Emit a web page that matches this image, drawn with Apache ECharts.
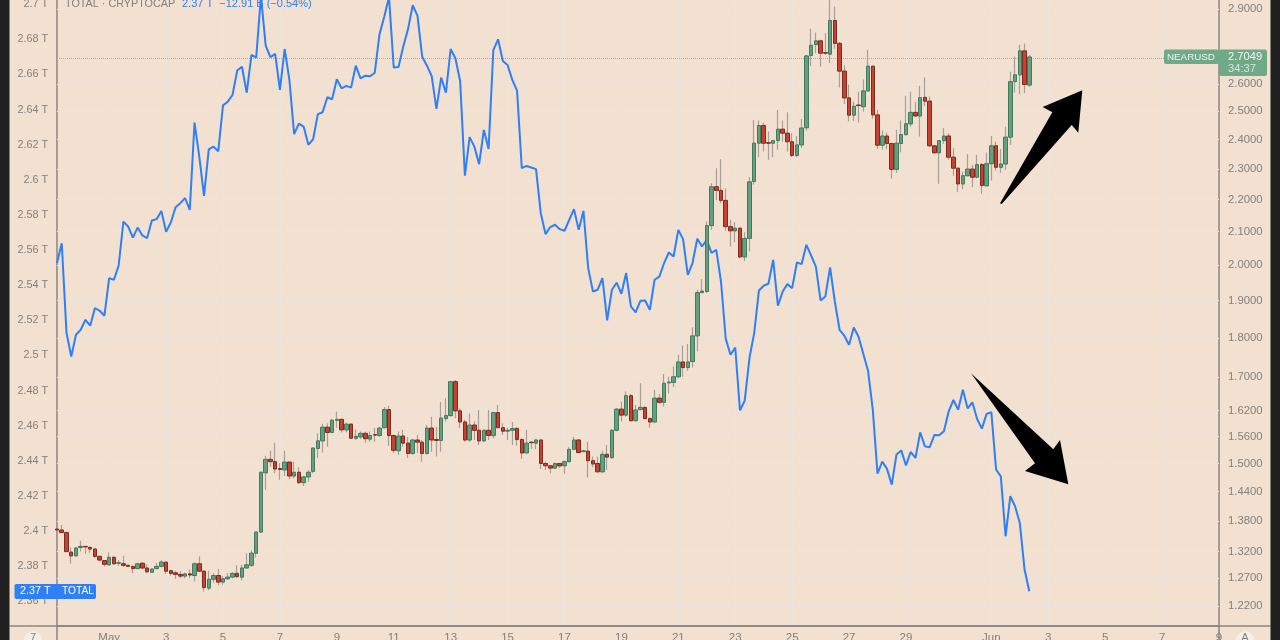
<!DOCTYPE html>
<html><head><meta charset="utf-8">
<style>html,body{margin:0;padding:0;background:#f2e0d0}#c{width:1280px;height:640px}</style>
<script src="https://cdn.jsdelivr.net/npm/echarts@6/dist/echarts.min.js"></script>
</head><body><div id="c"></div>
<script>
const opens = [
1.364,1.362,1.357,1.319,1.312,1.328,1.330,1.328,1.325,1.311,
1.303,1.295,1.309,1.298,1.297,1.294,1.292,1.288,1.298,1.289,
1.281,1.288,1.292,1.300,1.284,1.280,1.277,1.274,1.278,1.275,
1.297,1.283,1.252,1.268,1.275,1.263,1.269,1.272,1.279,1.272,
1.289,1.294,1.317,1.358,1.480,1.509,1.504,1.489,1.486,1.503,
1.473,1.481,1.459,1.471,1.483,1.533,1.550,1.581,1.569,1.597,
1.599,1.575,1.588,1.556,1.559,1.567,1.554,1.564,1.562,1.580,
1.622,1.562,1.528,1.561,1.545,1.522,1.552,1.547,1.522,1.579,
1.553,1.551,1.601,1.608,1.689,1.619,1.593,1.552,1.586,1.574,
1.550,1.574,1.562,1.615,1.580,1.572,1.574,1.578,1.553,1.523,
1.547,1.545,1.552,1.500,1.495,1.490,1.500,1.495,1.504,1.531,
1.552,1.526,1.527,1.506,1.500,1.482,1.520,1.513,1.574,1.623,
1.609,1.655,1.596,1.622,1.627,1.601,1.593,1.649,1.639,1.686,
1.687,1.701,1.738,1.724,1.739,1.805,1.922,1.925,2.118,2.241,
2.229,2.197,2.115,2.102,2.110,2.024,2.079,2.258,2.387,2.449,
2.389,2.387,2.396,2.436,2.422,2.392,2.345,2.381,2.441,2.711,
2.754,2.769,2.722,2.716,2.852,2.759,2.650,2.549,2.486,2.523,
2.517,2.575,2.669,2.487,2.380,2.412,2.386,2.298,2.386,2.417,
2.455,2.496,2.483,2.551,2.537,2.378,2.354,2.396,2.412,2.339,
2.302,2.250,2.277,2.299,2.272,2.314,2.244,2.317,2.378,2.305,
2.316,2.408,2.610,2.636,2.729,2.597];
const closes = [
1.362,1.357,1.320,1.312,1.327,1.330,1.329,1.325,1.311,1.304,
1.296,1.309,1.297,1.299,1.294,1.292,1.288,1.297,1.289,1.282,
1.287,1.292,1.300,1.283,1.279,1.277,1.274,1.278,1.276,1.297,
1.283,1.253,1.268,1.275,1.263,1.269,1.272,1.279,1.273,1.289,
1.295,1.317,1.358,1.481,1.509,1.504,1.488,1.487,1.503,1.473,
1.481,1.459,1.471,1.481,1.534,1.550,1.581,1.569,1.597,1.599,
1.575,1.588,1.556,1.560,1.567,1.555,1.562,1.563,1.579,1.622,
1.562,1.529,1.561,1.545,1.522,1.552,1.547,1.522,1.579,1.552,
1.551,1.602,1.608,1.689,1.619,1.593,1.552,1.586,1.574,1.550,
1.574,1.562,1.615,1.580,1.572,1.574,1.578,1.553,1.523,1.545,
1.546,1.552,1.500,1.495,1.490,1.500,1.495,1.504,1.531,1.552,
1.524,1.528,1.506,1.499,1.482,1.520,1.514,1.574,1.623,1.609,
1.655,1.596,1.621,1.627,1.601,1.593,1.649,1.639,1.685,1.688,
1.701,1.738,1.724,1.738,1.805,1.922,1.926,2.118,2.241,2.229,
2.197,2.115,2.102,2.110,2.024,2.079,2.257,2.387,2.449,2.387,
2.387,2.396,2.436,2.422,2.392,2.345,2.381,2.440,2.709,2.751,
2.769,2.720,2.720,2.852,2.759,2.650,2.549,2.486,2.518,2.521,
2.575,2.669,2.487,2.380,2.412,2.386,2.298,2.387,2.417,2.455,
2.496,2.483,2.550,2.537,2.378,2.354,2.396,2.412,2.339,2.302,
2.250,2.277,2.299,2.272,2.314,2.245,2.317,2.378,2.305,2.316,
2.408,2.610,2.636,2.729,2.599,2.7049];
const lows = [
1.360,1.356,1.319,1.297,1.311,1.320,1.316,1.318,1.308,1.301,
1.292,1.293,1.295,1.293,1.291,1.291,1.279,1.287,1.287,1.279,
1.280,1.287,1.290,1.278,1.275,1.269,1.270,1.270,1.270,1.264,
1.282,1.246,1.248,1.262,1.257,1.258,1.268,1.270,1.271,1.266,
1.289,1.291,1.309,1.357,1.444,1.493,1.479,1.465,1.473,1.466,
1.468,1.456,1.452,1.461,1.479,1.512,1.524,1.537,1.568,1.580,
1.569,1.569,1.554,1.552,1.554,1.546,1.548,1.548,1.559,1.578,
1.539,1.523,1.519,1.537,1.512,1.519,1.523,1.504,1.519,1.526,
1.515,1.526,1.594,1.605,1.602,1.579,1.548,1.548,1.552,1.541,
1.548,1.552,1.556,1.579,1.563,1.552,1.541,1.539,1.510,1.523,
1.532,1.532,1.488,1.486,1.479,1.488,1.490,1.478,1.502,1.530,
1.523,1.525,1.470,1.492,1.480,1.480,1.486,1.510,1.572,1.594,
1.605,1.594,1.594,1.621,1.599,1.580,1.592,1.636,1.629,1.660,
1.676,1.698,1.701,1.716,1.724,1.765,1.920,1.921,2.105,2.198,
2.188,2.102,2.055,2.068,2.020,2.012,2.040,2.247,2.339,2.358,
2.330,2.339,2.364,2.392,2.358,2.339,2.339,2.370,2.431,2.670,
2.720,2.668,2.713,2.681,2.737,2.588,2.527,2.463,2.465,2.460,
2.498,2.572,2.473,2.367,2.364,2.366,2.268,2.287,2.356,2.414,
2.445,2.480,2.410,2.519,2.375,2.351,2.251,2.385,2.330,2.277,
2.225,2.233,2.274,2.240,2.269,2.218,2.242,2.261,2.294,2.287,
2.296,2.381,2.569,2.563,2.566,2.590];
const highs = [
1.366,1.372,1.359,1.328,1.328,1.341,1.331,1.330,1.325,1.312,
1.304,1.319,1.312,1.304,1.312,1.295,1.293,1.299,1.299,1.296,
1.288,1.299,1.304,1.301,1.285,1.284,1.283,1.280,1.286,1.300,
1.311,1.285,1.284,1.279,1.287,1.274,1.279,1.281,1.294,1.295,
1.317,1.322,1.358,1.483,1.517,1.528,1.546,1.501,1.528,1.504,
1.504,1.492,1.473,1.486,1.535,1.567,1.589,1.590,1.600,1.617,
1.602,1.592,1.590,1.576,1.571,1.571,1.571,1.580,1.582,1.628,
1.631,1.564,1.571,1.575,1.559,1.554,1.563,1.552,1.586,1.605,
1.582,1.640,1.649,1.691,1.693,1.625,1.598,1.613,1.594,1.621,
1.576,1.621,1.616,1.633,1.590,1.580,1.593,1.582,1.556,1.575,
1.548,1.554,1.553,1.504,1.497,1.502,1.501,1.506,1.536,1.559,
1.554,1.530,1.548,1.515,1.515,1.528,1.541,1.577,1.625,1.641,
1.665,1.659,1.633,1.685,1.629,1.604,1.669,1.659,1.708,1.701,
1.727,1.756,1.780,1.784,1.828,1.930,1.960,2.131,2.252,2.302,
2.332,2.235,2.136,2.129,2.114,2.098,2.272,2.469,2.467,2.460,
2.428,2.398,2.505,2.467,2.497,2.422,2.412,2.472,2.713,2.818,
2.803,2.773,2.801,2.960,2.910,2.764,2.672,2.599,2.535,2.572,
2.618,2.733,2.672,2.505,2.431,2.424,2.388,2.434,2.467,2.557,
2.572,2.535,2.594,2.626,2.553,2.381,2.398,2.440,2.422,2.370,
2.304,2.291,2.349,2.313,2.347,2.319,2.355,2.412,2.392,2.367,
2.445,2.648,2.707,2.753,2.757,2.713];
const totalCap = [
2.5526,2.5639,2.5130,2.4994,2.5118,2.5146,2.5203,2.5169,2.5270,2.5254,
2.5226,2.5440,2.5431,2.5512,2.5762,2.5734,2.5671,2.5728,2.5683,2.5668,
2.5768,2.5776,2.5823,2.5704,2.5757,2.5844,2.5867,2.5896,2.5829,2.6326,
2.6132,2.5909,2.6174,2.6189,2.6163,2.6424,2.6445,2.6483,2.6622,2.6644,
2.6496,2.6711,2.6696,2.7047,2.6764,2.6698,2.6717,2.6512,2.6745,2.6569,
2.6260,2.6320,2.6303,2.6199,2.6231,2.6374,2.6385,2.6470,2.6459,2.6573,
2.6521,2.6535,2.6525,2.6650,2.6578,2.6593,2.6590,2.6610,2.6829,2.6929,
2.7041,2.6639,2.6643,2.6758,2.6857,2.6994,2.6935,2.6701,2.6650,2.6591,
2.6404,2.6582,2.6496,2.6745,2.6692,2.6563,2.6024,2.6243,2.6189,2.6089,
2.6284,2.6176,2.6739,2.6800,2.6677,2.6654,2.6569,2.6508,2.6066,2.6079,
2.6070,2.6061,2.5810,2.5691,2.5731,2.5744,2.5719,2.5710,2.5772,2.5833,
2.5715,2.5823,2.5497,2.5364,2.5374,2.5440,2.5199,2.5374,2.5414,2.5351,
2.5469,2.5279,2.5245,2.5311,2.5313,2.5260,2.5431,2.5449,2.5526,2.5586,
2.5563,2.5715,2.5662,2.5459,2.5526,2.5664,2.5620,2.5658,2.5583,2.5601,
2.5421,2.5095,2.5004,2.5045,2.4687,2.4742,2.4985,2.5127,2.5370,2.5397,
2.5408,2.5544,2.5283,2.5364,2.5406,2.5383,2.5529,2.5520,2.5630,2.5569,
2.5506,2.5313,2.5336,2.5501,2.5307,2.5146,2.5112,2.5061,2.5159,2.5106,
2.5010,2.4913,2.4691,2.4327,2.4395,2.4354,2.4264,2.4435,2.4459,2.4374,
2.4450,2.4416,2.4562,2.4482,2.4477,2.4547,2.4545,2.4568,2.4681,2.4746,
2.4691,2.4805,2.4698,2.4733,2.4638,2.4583,2.4667,2.4676,2.4350,2.4311,
2.3970,2.4198,2.4141,2.4046,2.3781,2.3657];
const leftTicks = [2.36,2.38,2.40,2.42,2.44,2.46,2.48,2.50,2.52,2.54,2.56,2.58,2.60,2.62,2.64,2.66,2.68,2.70];
const leftTickLabels = ['2.36 T','2.38 T','2.4 T','2.42 T','2.44 T','2.46 T','2.48 T','2.5 T','2.52 T','2.54 T','2.56 T','2.58 T','2.6 T','2.62 T','2.64 T','2.66 T','2.68 T','2.7 T'];
const rightTicks = [1.22,1.27,1.32,1.38,1.44,1.50,1.56,1.62,1.70,1.80,1.90,2.00,2.10,2.20,2.30,2.40,2.50,2.60,2.90];
const lastPrice = 2.7049;
const slotCount = 246;
const dateSlots = [11,23,35,47,59,71,83,95,107,119,131,143,155,167,179,197,209,221,233,245];
const dateLabels = ['May','3','5','7','9','11','13','15','17','19','21','23','25','27','29','Jun','3','5','7','9'];

const categories = Array.from({length:slotCount},(_, i)=>{const k=dateSlots.indexOf(i);return k>=0?dateLabels[k]:'';});
const wicks = opens.map((o,i)=>[o,closes[i],lows[i],highs[i]]);
const bodies = opens.map((o,i)=>[o,closes[i],Math.min(o,closes[i]),Math.max(o,closes[i])]);
const isDateSlot = i=>dateSlots.indexOf(i)>=0;

const FONT='"Liberation Sans",Arial,sans-serif', AX='#85807b', GRID='#ede4dd', LINE='#8b857f', BLUE='#2f7ff6', GREEN='#6fa988';
const box=(x,y,w,h,fill,r)=>({type:'rect',z:100,silent:true,shape:{x,y,width:w,height:h,r:r||0},style:{fill}});
const txt=(x,y,t,fill,o)=>({type:'text',z:101,silent:true,x,y,style:Object.assign({text:t,fill,font:'11.2px '+FONT,textVerticalAlign:'middle'},o||{})});

const chart=echarts.init(document.getElementById('c'),null,{renderer:'canvas'});
chart.setOption({
  animation:false,backgroundColor:'#f2e0d0',
  grid:{left:57,top:0,width:1162,height:626,containLabel:false,show:false,outerBoundsMode:'none'},
  xAxis:{type:'category',data:categories,boundaryGap:false,
    axisLine:{lineStyle:{color:LINE,width:1.5}},axisTick:{show:false},
    axisLabel:{color:AX,fontFamily:FONT,fontSize:11.5,margin:6,interval:(i)=>isDateSlot(i),formatter:v=>v,hideOverlap:false},
    splitLine:{show:true,interval:(i)=>isDateSlot(i),lineStyle:{color:GRID,width:1}}},
  yAxis:[
   {type:'value',position:'left',min:2.3459,max:2.7024,
    axisLine:{show:true,lineStyle:{color:LINE,width:1.5}},axisTick:{show:false,customValues:leftTicks},
    splitLine:{show:false},
    axisLabel:{customValues:leftTicks,color:AX,fontFamily:FONT,fontSize:10.8,margin:9,padding:[2,0,0,0],
      formatter:v=>{const k=leftTicks.findIndex(t=>Math.abs(t-v)<1e-6);return k>=0?leftTickLabels[k]:'';}}},
   {type:'log',position:'right',min:1.185,max:2.938,logBase:10,
    axisLine:{show:true,lineStyle:{color:LINE,width:1.5}},axisTick:{show:false,customValues:rightTicks},
    splitLine:{show:false},minorSplitLine:{show:false},
    axisLabel:{customValues:rightTicks,color:AX,fontFamily:FONT,fontSize:11.3,margin:9,padding:[2,0,0,0],formatter:v=>Number(v).toFixed(4)}}
  ],
  series:[
   {type:'line',name:'TOTAL',yAxisIndex:0,data:totalCap,showSymbol:false,z:3,lineStyle:{color:BLUE,width:2},itemStyle:{color:BLUE},silent:true},
   {type:'candlestick',name:'NEARUSD wick',yAxisIndex:1,data:wicks,barWidth:1.4,z:4,silent:true,
    itemStyle:{color:'#a89f98',color0:'#a89f98',borderColor:'#a89f98',borderColor0:'#a89f98',borderWidth:1.2},
    markLine:{z:1,silent:true,symbol:'none',label:{show:false},
      data:rightTicks.map(v=>({yAxis:v,lineStyle:{color:GRID,type:'solid',width:1}})).concat([{yAxis:lastPrice,lineStyle:{color:'#8fbfa0',type:'dotted',width:1}}])}},
   {type:'candlestick',name:'NEARUSD',yAxisIndex:1,data:bodies,barWidth:4,z:5,silent:true,
    itemStyle:{color:'#64a080',color0:'#c8402f',borderColor:'#437a5e',borderColor0:'#7f2c20',borderWidth:1}}
  ],
  graphic:[
   box(0,0,9.5,640,'#1f1f1f'),box(1270.5,0,9.5,640,'#1f1f1f'),
   {type:'line',z:90,silent:true,shape:{x1:57,y1:626,x2:57,y2:640},style:{stroke:LINE,lineWidth:1.5}},
   {type:'line',z:90,silent:true,shape:{x1:1219,y1:626,x2:1219,y2:640},style:{stroke:LINE,lineWidth:1.5}},
   {type:'line',z:90,silent:true,shape:{x1:9.5,y1:626,x2:1270.5,y2:626},style:{stroke:LINE,lineWidth:1.5}},
   {type:'polygon',z:95,silent:true,shape:{points:[[1082.3,90.3],[1042.7,107],[1052.3,112.3],[1000,203.3],[1001.7,204],[1071.7,125],[1078.3,132.7]]},style:{fill:'#000'}},
   {type:'polygon',z:95,silent:true,shape:{points:[[971,373.3],[1053.3,449.3],[1060,440],[1068.3,484.3],[1025,471],[1035,463.3]]},style:{fill:'#000'}},
   txt(65,4,'TOTAL · CRYPTOCAP',AX,{font:'10.8px '+FONT}),
   txt(182,4,'2.37 T  −12.91 B (−0.54%)',BLUE,{font:'11px '+FONT}),
   box(14.5,584,81.5,15,BLUE,2),
   txt(20,591.5,'2.37 T',"#fff",{font:'10.8px '+FONT}),txt(62,591.5,'TOTAL',"#fff",{font:'10.2px '+FONT}),
   box(1164,49.5,55,14.5,GREEN,2),
   txt(1167,57,'NEARUSD',"#eef5ef",{font:'9.8px '+FONT}),
   box(1219,49.5,48,26.5,GREEN,2),
   txt(1228,57,'2.7049','#f2f7f3'),txt(1228,69,'34:37','#d7e8dc'),
   {type:'circle',z:80,silent:true,shape:{cx:33,cy:640,r:9},style:{fill:'#f6eee7'}},
   {type:'circle',z:80,silent:true,shape:{cx:1245,cy:640,r:9},style:{fill:'#f6eee7'}},
   txt(33,638,'7',AX,{textAlign:'center'}),txt(1245,638,'A',AX,{textAlign:'center'})
  ]
});
</script></body></html>
